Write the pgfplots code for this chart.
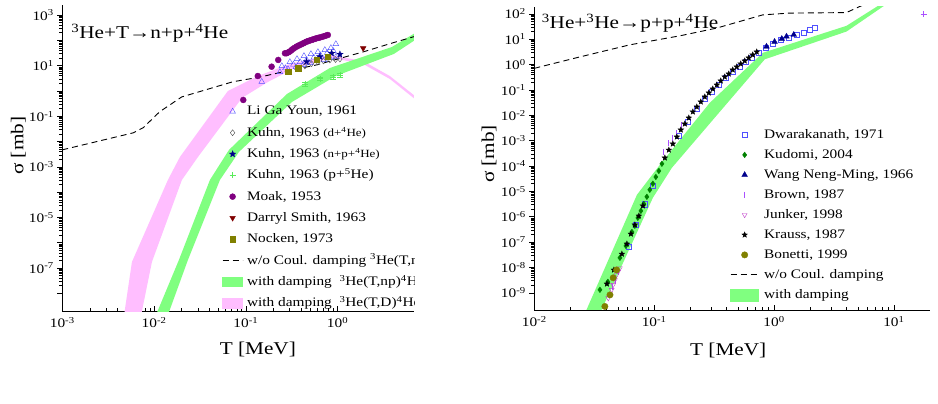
\documentclass[border=0pt]{standalone}
\usepackage{fontspec}
\setmainfont{Liberation Serif}[FakeStretch=1.18]
\usepackage{pgfplots}
\pgfplotsset{compat=1.18}
\usetikzlibrary{plotmarks}

\definecolor{bandgreen}{RGB}{128,255,128}
\definecolor{bandpink}{RGB}{255,190,255}
\definecolor{lgblue}{RGB}{80,80,255}
\definecolor{navyc}{RGB}{0,0,140}
\definecolor{kuhnplus}{RGB}{90,235,90}
\definecolor{moakc}{RGB}{128,0,128}
\definecolor{smithc}{RGB}{128,0,0}
\definecolor{olivec}{RGB}{128,128,0}
\definecolor{kudomic}{RGB}{0,128,0}
\definecolor{brownc}{RGB}{170,80,255}
\definecolor{junkerc}{RGB}{190,60,200}

% filled five-pointed star
\pgfdeclareplotmark{fstar}{%
  \pgfpathmoveto{\pgfpointpolar{90}{\pgfplotmarksize}}%
  \pgfpathlineto{\pgfpointpolar{126}{0.42\pgfplotmarksize}}%
  \pgfpathlineto{\pgfpointpolar{162}{\pgfplotmarksize}}%
  \pgfpathlineto{\pgfpointpolar{198}{0.42\pgfplotmarksize}}%
  \pgfpathlineto{\pgfpointpolar{234}{\pgfplotmarksize}}%
  \pgfpathlineto{\pgfpointpolar{270}{0.42\pgfplotmarksize}}%
  \pgfpathlineto{\pgfpointpolar{306}{\pgfplotmarksize}}%
  \pgfpathlineto{\pgfpointpolar{342}{0.42\pgfplotmarksize}}%
  \pgfpathlineto{\pgfpointpolar{18}{\pgfplotmarksize}}%
  \pgfpathlineto{\pgfpointpolar{54}{0.42\pgfplotmarksize}}%
  \pgfpathclose\pgfusepathqfillstroke}

\newcommand{\ticklabfont}{\fontsize{13}{13}\selectfont}
\newcommand{\labfont}{\fontsize{18}{18}\selectfont}
\newcommand{\legfont}{\fontsize{13}{15}\selectfont}

\begin{document}
\begin{tikzpicture}
\useasboundingbox (0,0) rectangle (938pt,404pt);

% ---------------- 3He + T ----------------
\begin{scope}
\clip (0,0) rectangle (414.3pt,404pt);
\begin{axis}[
  xmode=log, ymode=log, scale only axis,
  axis x line=bottom, axis y line=left, axis line style={-},
  xtick align=inside, ytick align=outside,
  major tick length=5pt, minor tick length=3pt,
  every tick/.style={black, line width=0.5pt},
  tick label style={font=\ticklabfont},
  xticklabel style={yshift=-3pt},
  label style={font=\labfont},
  at={(62.3pt,93pt)}, anchor=south west,
  width=351.7pt, height=306pt,
  xmin=1e-3, xmax=6.8, ymin=2e-9, ymax=2500,
  xtick={1e-3,1e-2,1e-1,1},
  xticklabels={10\textsuperscript{-3},10\textsuperscript{-2},10\textsuperscript{-1},10\textsuperscript{0}},
  ytick={1e-8,1e-7,1e-6,1e-5,1e-4,1e-3,1e-2,1e-1,1,10,100,1000},
  yticklabels={,10\textsuperscript{-7},,10\textsuperscript{-5},,10\textsuperscript{-3},,10\textsuperscript{-1},,10\textsuperscript{1},,10\textsuperscript{3}},
  xlabel={T [MeV]}, ylabel={σ [mb]},
  xlabel style={at={(axis description cs:0.556,-0.127)}, anchor=center},
  ylabel style={at={(axis description cs:-0.125,0.54)}, anchor=center},
  legend style={at={(0.454,0.674)}, anchor=north west, draw=none, fill=none,
    inner sep=0pt, font=\legfont,
    nodes={inner sep=0pt, text height=10pt, text depth=3pt},
    row sep=8.3pt,
    /tikz/every odd column/.append style={column sep=4pt}},
  legend cell align=left,
  legend image code/.code={\path (0pt,0pt) (20pt,0pt);\draw[#1] plot coordinates {(10pt,0pt)};},
  mark size=2.8pt,
]
% with damping 3He(T,D)4He
\addplot[fill=bandpink, draw=none, forget plot] coordinates {
  (0.00465,1e-9) (0.00574,1.74e-7) (0.01415,3.03e-4) (0.01914,2.46e-3)
  (0.0638,1.0) (0.1355,3.9) (0.302,11.7) (0.824,26.5) (1.89,15.3)
  (3.71,3.9) (6.9,0.65)
  (6.9,0.49) (3.71,2.98) (1.89,11.7) (0.867,20.1) (0.343,8.1)
  (0.174,2.27) (0.0908,0.528) (0.0301,2.46e-3) (0.0201,3.03e-4)
  (0.00948,1.74e-7) (0.0071,1e-9)} -- cycle;
% with damping 3He(T,np)4He
\addplot[fill=bandgreen, draw=none, forget plot] coordinates {
  (0.0101,1e-9) (0.01866,2.09e-7) (0.0406,3.03e-4) (0.0655,4.66e-3)
  (0.2806,0.760) (0.824,8.1) (3.91,54.8) (6.9,190)
  (6.9,100) (4.10,29) (0.957,3.92) (0.318,0.367) (0.0841,3.88e-3)
  (0.0522,3.03e-4) (0.0234,2.09e-7) (0.0137,1e-9)} -- cycle;
% without Coulomb damping
\addplot[black, line width=0.9pt, dash pattern=on 6pt off 4pt, forget plot] coordinates {
  (0.001,4.7e-3) (0.0059,0.022) (0.0076,0.035) (0.0115,0.15) (0.020,0.58)
  (0.072,2.3) (0.14,3.5) (0.25,5.6) (0.59,10.7) (1.9,35) (4.0,80) (6.8,140)};

\addplot[only marks, mark=triangle, lgblue, mark size=3.3pt] coordinates {
  (0.149,2.33)
  (0.247,9.7) (0.302,14) (0.361,18.4) (0.430,24.2) (0.512,29) (0.610,34.8)
  (0.726,41.8) (0.845,50.1) (0.957,72)
  (0.27,8) (0.33,11) (0.39,14) (0.46,17) (0.55,21) (0.65,26) (0.77,32) (0.9,38)
  (0.235,5.6) (0.288,7.4) (0.352,8.9) (0.419,10.7) (0.499,12.8) (0.596,15.3)
  (0.710,16.8) (0.824,20.1) (0.957,22.1)};
\addlegendentry{Li Ga Youn, 1961}
\addplot[only marks, mark=diamond, black!70, mark size=3pt] coordinates {
  (0.440,9.7) (0.52,12) (0.610,14) (0.70,15.5) (0.824,16.8) (0.95,17.5) (1.06,18.4)};
\addlegendentry{Kuhn, 1963 {\fontsize{11}{13}\selectfont(d+\textsuperscript{4}He)}}
\addplot[only marks, mark=fstar, navyc, mark size=3.3pt] coordinates {
  (0.459,14.4) (0.641,22.7) (0.861,30.9) (1.06,28.2)};
\addlegendentry{Kuhn, 1963 {\fontsize{11}{13}\selectfont(n+p+\textsuperscript{4}He)}}
\addplot[only marks, mark=+, kuhnplus, mark size=3pt,
  error bars/.cd, y dir=both, y explicit] coordinates {
  (0.446,1.89) +- (0,0.3) (0.650,3.1) +- (0,0.5)
  (0.889,3.6) +- (0,0.6) (1.07,4.3) +- (0,0.8)};
\addlegendentry{Kuhn, 1963 (p+\textsuperscript{5}He)}
\addplot[only marks, mark=*, moakc, mark size=3pt] coordinates {
  (0.0938,0.44) (0.135,3.9) (0.191,9.1) (0.2255,16.8) (0.267,30.9)
  (0.278,30.9) (0.29,33.5) (0.302,36.4) (0.314,41) (0.326,45.7) (0.341,51)
  (0.357,56.4) (0.372,61) (0.388,65.8) (0.406,71) (0.424,76.7) (0.441,82.5)
  (0.459,88.8) (0.479,94) (0.499,99) (0.522,104) (0.545,110) (0.567,115)
  (0.590,121) (0.615,125.5) (0.641,130) (0.675,137) (0.709,145) (0.745,154)
  (0.783,163)};
\addlegendentry{Moak, 1953}
\addplot[only marks, mark=triangle*, mark options={rotate=180}, smithc, mark size=3.2pt] coordinates {
  (1.90,48.7)};
\addlegendentry{Darryl Smith, 1963}
\addplot[only marks, mark=square*, olivec, mark size=2.6pt] coordinates {
  (0.290,5.8) (0.372,7.9) (0.590,16.8) (0.783,22.7)};
\addlegendentry{Nocken, 1973}
\addlegendimage{legend image code/.code={\draw[black, line width=0.9pt, dash pattern=on 6pt off 4pt] (0pt,0pt) -- (20pt,0pt);}}
\addlegendentry{w/o Coul. damping \textsuperscript{3}He(T,np)\textsuperscript{4}He}
\addlegendimage{legend image code/.code={\fill[bandgreen] (0pt,-4.75pt) rectangle (20pt,4.75pt);}}
\addlegendentry{with damping \ \textsuperscript{3}He(T,np)\textsuperscript{4}He}
\addlegendimage{legend image code/.code={\fill[bandpink] (0pt,-4.75pt) rectangle (20pt,4.75pt);}}
\addlegendentry{with damping \ \textsuperscript{3}He(T,D)\textsuperscript{4}He}

\node[anchor=west, font=\labfont] at (rel axis cs:0.016,0.908)
  {\textsuperscript{3}He+T→n+p+\textsuperscript{4}He};
\end{axis}
\end{scope}

% ---------------- 3He + 3He ----------------
\begin{axis}[
  xmode=log, ymode=log, scale only axis,
  axis x line=bottom, axis y line=left, axis line style={-},
  xtick align=inside, ytick align=outside,
  major tick length=5pt, minor tick length=3pt,
  every tick/.style={black, line width=0.5pt},
  tick label style={font=\ticklabfont},
  xticklabel style={yshift=-3pt},
  label style={font=\labfont},
  at={(534.3pt,94pt)}, anchor=south west,
  width=395.7pt, height=303pt,
  xmin=0.01, xmax=20, ymin=2.1e-10, ymax=186,
  xtick={0.01,0.1,1,10},
  xticklabels={10\textsuperscript{-2},10\textsuperscript{-1},10\textsuperscript{0},10\textsuperscript{1}},
  ytick={1e-9,1e-8,1e-7,1e-6,1e-5,1e-4,1e-3,1e-2,1e-1,1,10,100},
  yticklabels={10\textsuperscript{-9},10\textsuperscript{-8},10\textsuperscript{-7},10\textsuperscript{-6},10\textsuperscript{-5},10\textsuperscript{-4},10\textsuperscript{-3},10\textsuperscript{-2},10\textsuperscript{-1},10\textsuperscript{0},10\textsuperscript{1},10\textsuperscript{2}},
  xlabel={T [MeV]}, ylabel={σ [mb]},
  xlabel style={at={(axis description cs:0.49,-0.132)}, anchor=center},
  ylabel style={at={(axis description cs:-0.1145,0.515)}, anchor=center},
  legend style={at={(0.4946,0.60)}, anchor=north west, draw=none, fill=none,
    inner sep=0pt, font=\legfont,
    nodes={inner sep=0pt, text height=10pt, text depth=3pt},
    row sep=7pt,
    /tikz/every odd column/.append style={column sep=5pt}},
  legend cell align=left,
  legend image code/.code={\path (0pt,0pt) (28pt,0pt);\draw[#1] plot coordinates {(14pt,0pt)};},
  mark size=2.8pt,
]
% with damping
\addplot[fill=bandgreen, draw=none, forget plot] coordinates {
  (0.0254,1e-10) (0.0718,7.3e-6) (0.1115,1.11e-4) (0.291,0.031) (0.805,2.9)
  (4.02,33.7) (7.6,226)
  (8.5,226) (4.02,20) (0.837,1.61) (0.3527,0.0137) (0.1404,8.46e-5)
  (0.0975,5.55e-6) (0.0338,1e-10)} -- cycle;
% without Coulomb damping
\addplot[black, line width=0.9pt, dash pattern=on 6pt off 4pt, forget plot] coordinates {
  (0.01,0.71) (0.024,2.0) (0.0627,6.0) (0.164,13.6) (0.331,27.3) (0.805,91)
  (1.35,107) (4.01,112) (5.18,194) (6.5,300)};

\addplot[only marks, mark=square, lgblue, mark size=2.8pt] coordinates {
  (0.0615,6.5e-8) (0.07039,4.8e-7) (0.08368,3.2e-6) (0.09754,1.65e-5)
  (0.1606,1.55e-3) (0.1909,5.5e-3) (0.2269,0.0179) (0.2646,0.0445)
  (0.3025,0.084) (0.3461,0.158) (0.3958,0.30) (0.4527,0.516) (0.5178,0.813)
  (0.5810,1.28) (0.6519,1.84) (0.7455,2.90) (0.8527,4.56) (0.9754,6.56)
  (1.137,9.4) (1.326,11.3) (1.546,14.9) (1.768,17.8) (1.984,23.4) (2.184,28.0)};
\addlegendentry{Dwarakanath, 1971}
\addplot[only marks, mark=diamond*, kudomic, mark size=2.8pt] coordinates {
  (0.0353,1.31e-9) (0.0411,2.7e-9) (0.0518,2.4e-8) (0.0581,7.1e-8)
  (0.0652,2.5e-7) (0.069,4.4e-7) (0.0731,9e-7) (0.0775,1.7e-6) (0.082,3.2e-6)
  (0.0869,6.1e-6) (0.092,1.15e-5) (0.0975,2.0e-5) (0.1033,3.7e-5)
  (0.1094,6.4e-5) (0.116,1.22e-4)};
\addlegendentry{Kudomi, 2004}
\addplot[only marks, mark=triangle*, navyc, mark size=3.3pt] coordinates {
  (0.865,5.1) (1.01,7.9) (1.16,10.3) (1.27,12.7) (1.46,14.9)};
\addlegendentry{Wang Neng-Ming, 1966}
\addplot[only marks, mark=|, brownc, mark size=3pt] coordinates {
  (0.0444,1.7e-9) (0.0470,3.2e-9) (0.0501,6.9e-9)
  (0.119,3.7e-4) (0.131,8e-4) (0.142,1.29e-3) (0.1537,1.98e-3) (0.169,4.2e-3)};
\addlegendentry{Brown, 1987}
\addplot[only marks, mark=+, brownc, mark size=3pt, forget plot] coordinates {(17.7,100)};
\addplot[only marks, mark=triangle, mark options={rotate=180}, junkerc, mark size=2.8pt] coordinates {
  (0.0414,6.2e-10) (0.0428,8.3e-10) (0.0442,1.31e-9) (0.0455,2.06e-9)
  (0.0470,3.2e-9) (0.0486,5.1e-9) (0.0501,6.9e-9) (0.0518,9.4e-9)};
\addlegendentry{Junker, 1998}
\addplot[only marks, mark=fstar, black, mark size=2.9pt] coordinates {
  (0.04035,2.25e-9) (0.04615,8.0e-9) (0.0538,3.4e-8) (0.05923,8.5e-8)
  (0.06392,2.1e-7) (0.06905,4.8e-7) (0.07456,1.08e-6) (0.0805,2.7e-6)
  (0.1228,2.1e-4) (0.1326,4.3e-4) (0.1432,7.5e-4) (0.1546,1.41e-3)
  (0.1669,2.67e-3) (0.1803,4.6e-3) (0.1946,7.9e-3) (0.2102,0.0137)
  (0.2269,0.0215) (0.2450,0.0339) (0.2646,0.0533) (0.2857,0.0767)
  (0.3084,0.110) (0.3331,0.158) (0.3596,0.228) (0.3883,0.328)
  (0.4193,0.430) (0.4527,0.619) (0.4888,0.813) (0.5278,1.07)
  (0.5699,1.40) (0.6153,1.84) (0.6644,2.42) (0.7175,3.17)};
\addlegendentry{Krauss, 1987}
\addplot[only marks, mark=*, olivec, mark size=3.2pt] coordinates {
  (0.0388,2.9e-10) (0.0428,8.3e-10) (0.0455,3.9e-9) (0.0486,8e-9)};
\addlegendentry{Bonetti, 1999}
\addlegendimage{legend image code/.code={\draw[black, line width=0.9pt, dash pattern=on 6pt off 4pt] (0pt,0pt) -- (28pt,0pt);}}
\addlegendentry{w/o Coul. damping}
\addlegendimage{legend image code/.code={\fill[bandgreen] (0pt,-6pt) rectangle (28pt,6pt);}}
\addlegendentry{with damping}

\node[anchor=west, font=\labfont] at (rel axis cs:0.01,0.947)
  {\textsuperscript{3}He+\textsuperscript{3}He→p+p+\textsuperscript{4}He};
\end{axis}
\end{tikzpicture}
\end{document}
